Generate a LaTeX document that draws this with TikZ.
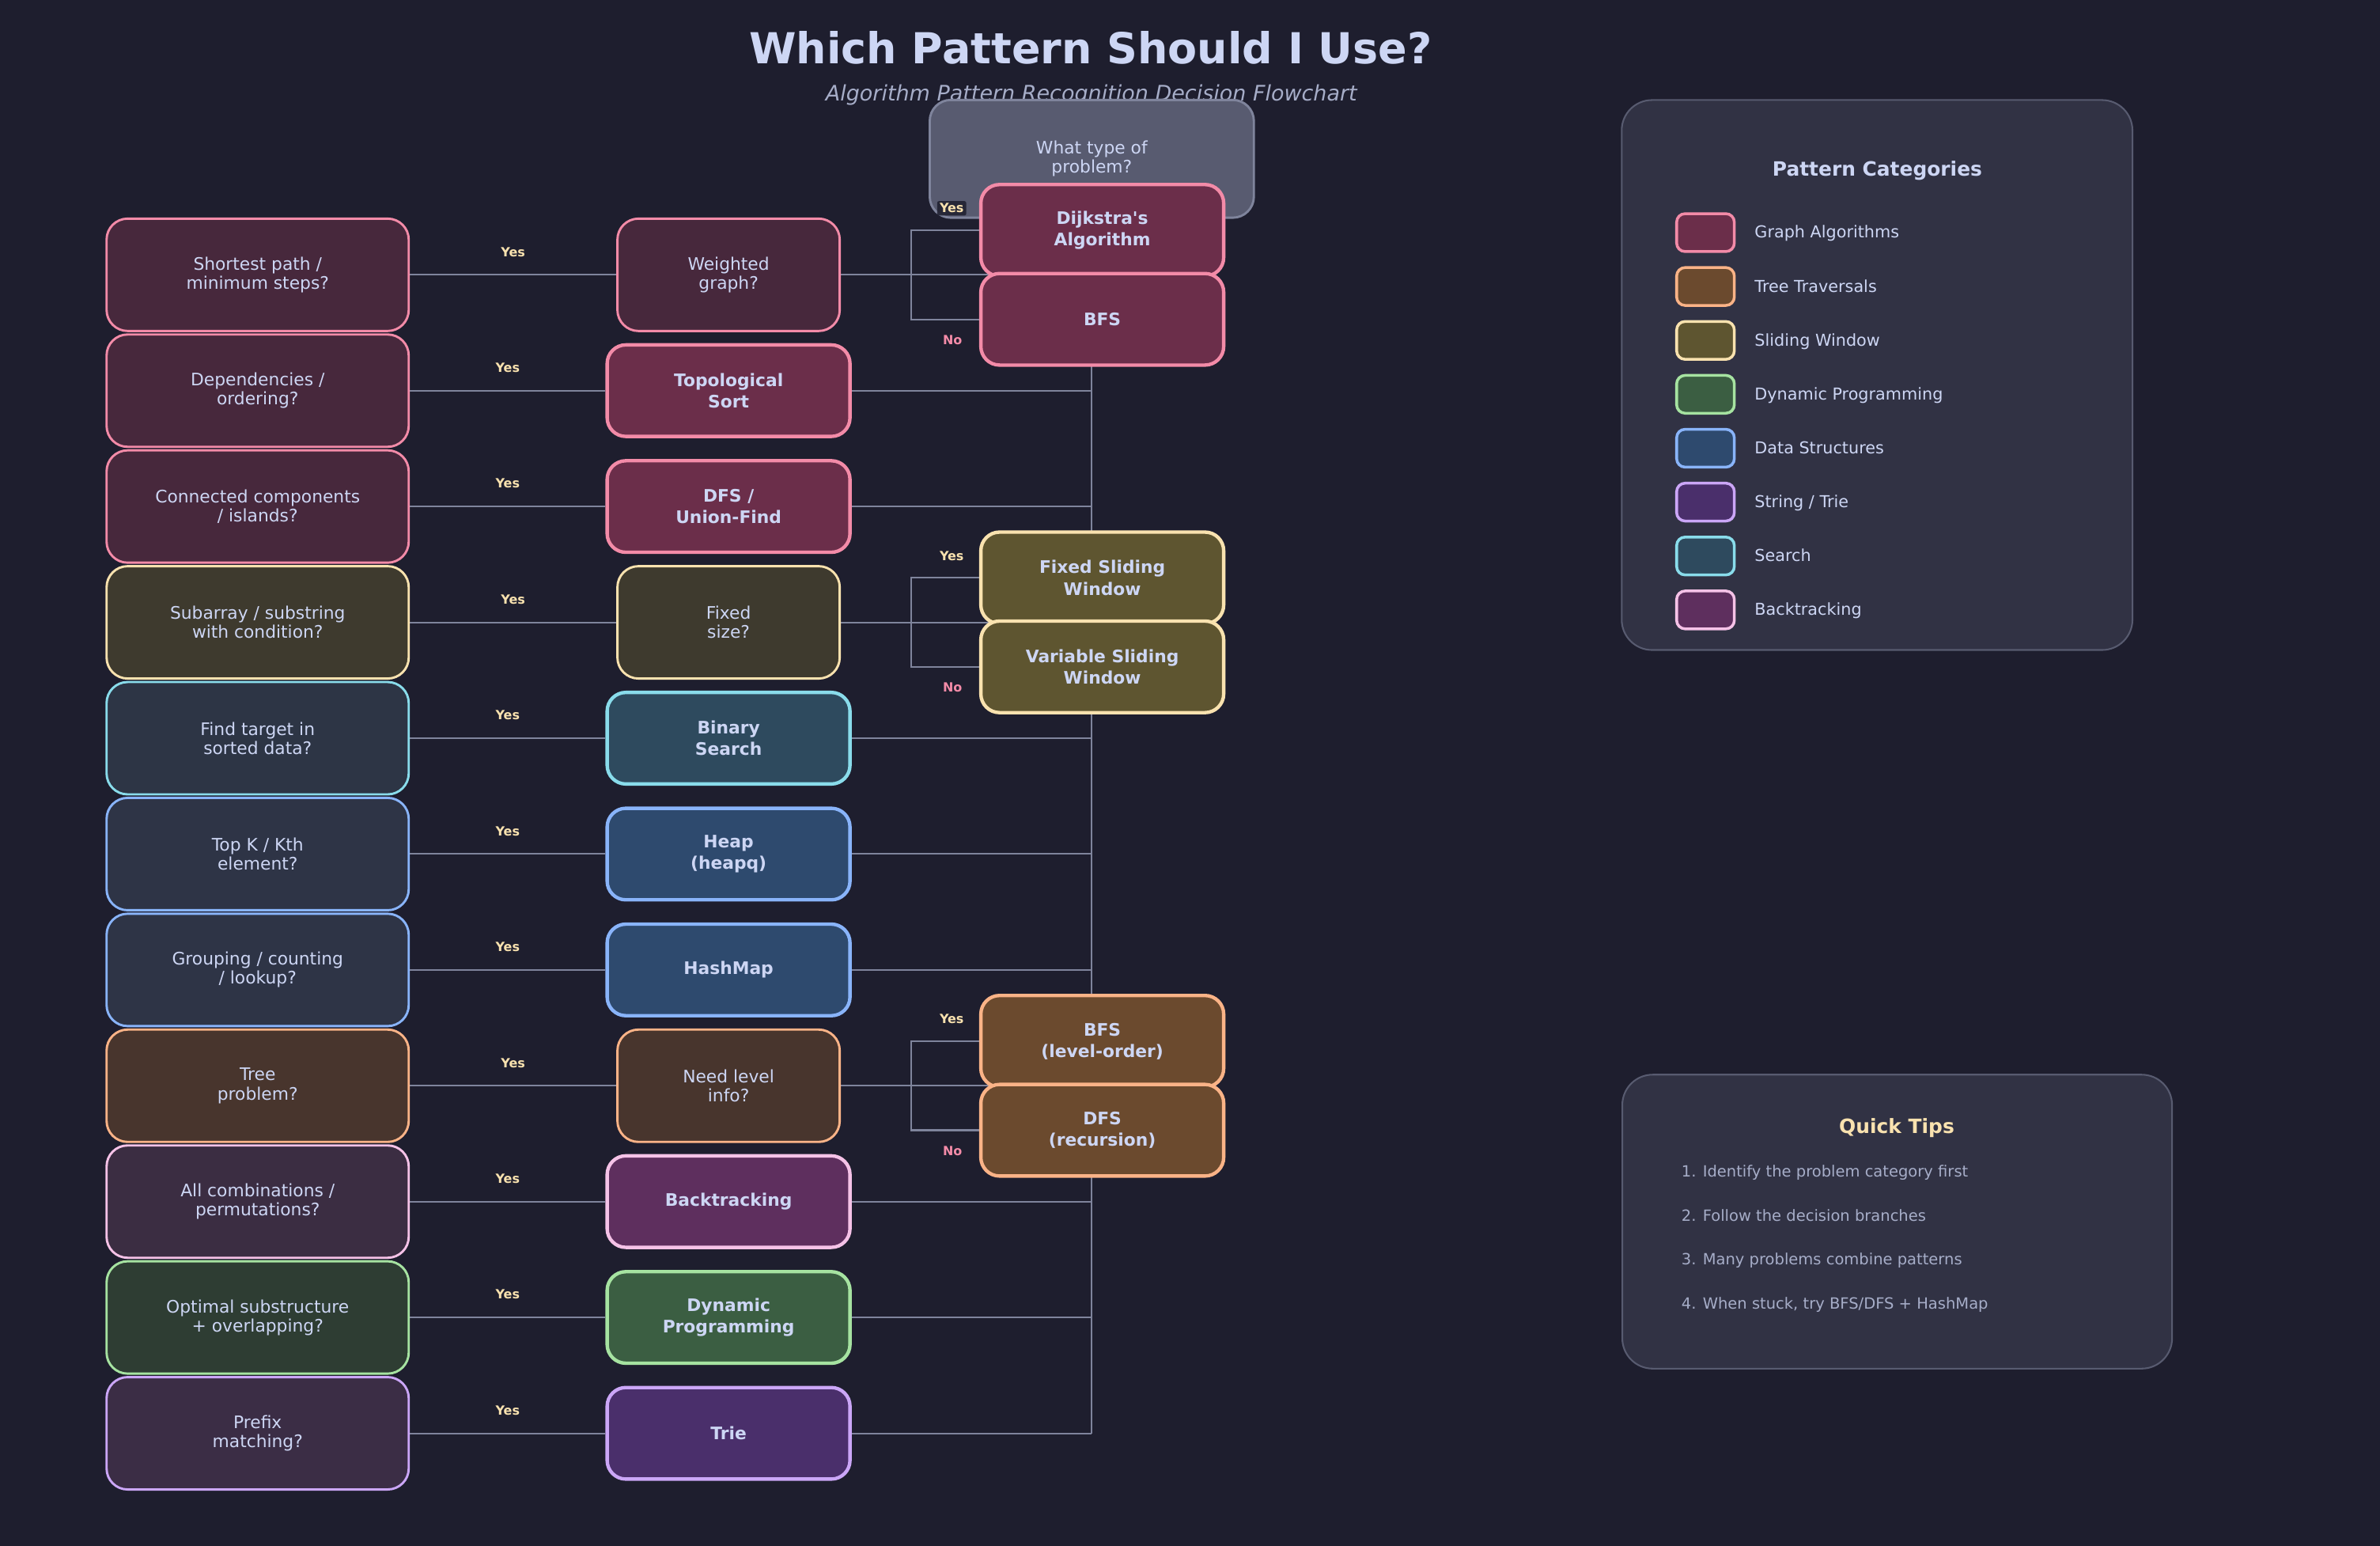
\documentclass[tikz,border=0pt]{standalone}
\usepackage{fontspec}
\setmainfont{DejaVu Sans}
\usetikzlibrary{backgrounds}

% palette
\definecolor{basebg}{HTML}{1E1E2E}
\definecolor{textfg}{HTML}{CDD6F4}
\definecolor{subfg}{HTML}{A6ADC8}
\definecolor{linkgray}{HTML}{7F849C}
\definecolor{startfill}{HTML}{585B70}
\definecolor{panelfill}{HTML}{313244}
\definecolor{paneledge}{HTML}{585B70}
\definecolor{pinkedge}{HTML}{F38BA8}
\definecolor{pinkq}{HTML}{47283C}
\definecolor{pinkr}{HTML}{6B2E4A}
\definecolor{peachedge}{HTML}{FAB387}
\definecolor{peachq}{HTML}{48352D}
\definecolor{peachr}{HTML}{6B4A2E}
\definecolor{yellowedge}{HTML}{F9E2AF}
\definecolor{yellowq}{HTML}{3E3A2E}
\definecolor{yellowr}{HTML}{5E5530}
\definecolor{greenedge}{HTML}{A6E3A1}
\definecolor{greenq}{HTML}{2E3D33}
\definecolor{greenr}{HTML}{3B5E42}
\definecolor{blueedge}{HTML}{89B4FA}
\definecolor{blueq}{HTML}{2E3446}
\definecolor{bluer}{HTML}{2E4A6E}
\definecolor{mauveedge}{HTML}{CBA6F7}
\definecolor{mauveq}{HTML}{3B2D45}
\definecolor{mauver}{HTML}{4A2F6B}
\definecolor{skyedge}{HTML}{89DCEB}
\definecolor{skyq}{HTML}{2D3545}
\definecolor{skyr}{HTML}{2E4A5E}
\definecolor{flamedge}{HTML}{F5C2E7}
\definecolor{flamq}{HTML}{3B2D42}
\definecolor{flamr}{HTML}{5E2F5E}

\begin{document}
\begin{tikzpicture}[
    x=0.032496cm, y=-0.032496cm,
    question/.style={draw, rounded corners=0.45cm, line width=1.4pt, minimum width=6.47cm, minimum height=2.405cm, align=center, text=textfg, font=\fontsize{10.5}{11.6}\selectfont},
    decision/.style={question, minimum width=4.76cm},
    result/.style={draw, rounded corners=0.4cm, line width=2.1pt, minimum width=5.2cm, minimum height=1.96cm, align=center, text=textfg, font=\bfseries\fontsize{10.5}{13.2}\selectfont},
    startbox/.style={draw=linkgray, fill=startfill, rounded corners=0.45cm, line width=1.4pt, minimum width=6.94cm, minimum height=2.52cm, align=center, text=textfg, font=\fontsize{10.5}{11.6}\selectfont},
    graphq/.style={draw=pinkedge, fill=pinkq}, graphr/.style={draw=pinkedge, fill=pinkr},
    treeq/.style={draw=peachedge, fill=peachq}, treer/.style={draw=peachedge, fill=peachr},
    slideq/.style={draw=yellowedge, fill=yellowq}, slider/.style={draw=yellowedge, fill=yellowr},
    dpq/.style={draw=greenedge, fill=greenq}, dpr/.style={draw=greenedge, fill=greenr},
    dsq/.style={draw=blueedge, fill=blueq}, dsr/.style={draw=blueedge, fill=bluer},
    trieq/.style={draw=mauveedge, fill=mauveq}, trier/.style={draw=mauveedge, fill=mauver},
    searchq/.style={draw=skyedge, fill=skyq}, searchr/.style={draw=skyedge, fill=skyr},
    backq/.style={draw=flamedge, fill=flamq}, backr/.style={draw=flamedge, fill=flamr},
    link/.style={draw=linkgray, line width=1pt},
    yeslbl/.style={text=yellowedge, font=\bfseries\fontsize{7.7}{9}\selectfont, fill=basebg, fill opacity=0.85, text opacity=1, rounded corners=1pt, inner sep=1.5pt},
    nolbl/.style={yeslbl, text=pinkedge},
    panel/.style={draw=paneledge, fill=panelfill, line width=1pt, rounded corners=0.65cm},
    swatch/.style={draw, rounded corners=0.18cm, line width=1.7pt, minimum width=1.235cm, minimum height=0.81cm},
    legtext/.style={text=textfg, font=\fontsize{10}{12}\selectfont, anchor=base west, inner sep=0pt},
    tiptext/.style={text=subfg, font=\fontsize{9.4}{11}\selectfont, anchor=base west, inner sep=0pt}
]

\useasboundingbox (0,0) rectangle (1568,1018);
\begin{scope}[on background layer]
\fill[basebg] (0,0) rectangle (1568,1018);
\end{scope}

% header
\node[text=textfg, font=\bfseries\fontsize{26}{31}\selectfont, anchor=base] (title) at (718.6,41.7) {Which Pattern Should I Use?};
\node[text=subfg, font=\itshape\fontsize{13}{15}\selectfont, anchor=base] (subtitle) at (719,66.3) {Algorithm Pattern Recognition Decision Flowchart};

\node[startbox] (start) at (719.3,104.6) {What type of\\problem?};

% questions
\node[question, graphq] (q_short) at (169.75,181.0) {Shortest path /\\minimum steps?};
\node[question, graphq] (q_dep) at (169.75,257.3) {Dependencies /\\ordering?};
\node[question, graphq] (q_conn) at (169.75,333.6) {Connected components\\/ islands?};
\node[question, slideq] (q_sub) at (169.75,409.9) {Subarray / substring\\with condition?};
\node[question, searchq] (q_find) at (169.75,486.2) {Find target in\\sorted data?};
\node[question, dsq] (q_topk) at (169.75,562.5) {Top K / Kth\\element?};
\node[question, dsq] (q_group) at (169.75,638.8) {Grouping / counting\\/ lookup?};
\node[question, treeq] (q_tree) at (169.75,715.1) {Tree\\problem?};
\node[question, backq] (q_comb) at (169.75,791.4) {All combinations /\\permutations?};
\node[question, dpq] (q_opt) at (169.75,867.7) {Optimal substructure\\+ overlapping?};
\node[question, trieq] (q_prefix) at (169.75,944.0) {Prefix\\matching?};

% second column
\node[decision, graphq] (d_weight) at (480,181.0) {Weighted\\graph?};
\node[result, graphr] (m_topo) at (480,257.3) {Topological\\Sort};
\node[result, graphr] (m_dfs) at (480,333.6) {DFS /\\Union-Find};
\node[decision, slideq] (d_fixed) at (480,409.9) {Fixed\\size?};
\node[result, searchr] (m_bsearch) at (480,486.2) {Binary\\Search};
\node[result, dsr] (m_heap) at (480,562.5) {Heap\\(heapq)};
\node[result, dsr] (m_hash) at (480,638.8) {HashMap};
\node[decision, treeq] (d_level) at (480,715.1) {Need level\\info?};
\node[result, backr] (m_back) at (480,791.4) {Backtracking};
\node[result, dpr] (m_dp) at (480,867.7) {Dynamic\\Programming};
\node[result, trier] (m_trie) at (480,944.0) {Trie};

% yes / no outcomes
\node[result, graphr] (s_dijk) at (726.2,151.7) {Dijkstra\textquotesingle s\\Algorithm};
\node[result, graphr] (s_bfs) at (726.2,210.3) {BFS};
\node[result, slider] (s_fixed) at (726.2,380.6) {Fixed Sliding\\Window};
\node[result, slider] (s_var) at (726.2,439.2) {Variable Sliding\\Window};
\node[result, treer] (s_bfslvl) at (726.2,685.8) {BFS\\(level-order)};
\node[result, treer] (s_dfsrec) at (726.2,744.4) {DFS\\(recursion)};

\coordinate (br_weight) at (600.4,181.0);
\coordinate (br_fixed) at (600.4,409.9);
\coordinate (br_level) at (600.4,715.1);

\node[yeslbl] (y_dijk) at (627,137.2) {Yes};
\node[nolbl] (n_bfs) at (627.5,224.0) {No};
\node[yeslbl] (y_fixed) at (627,366.1) {Yes};
\node[nolbl] (n_var) at (627.5,452.9) {No};
\node[yeslbl] (y_bfslvl) at (627,671.3) {Yes};
\node[nolbl] (n_dfsrec) at (627.5,758.1) {No};

% connectors
\begin{scope}[on background layer]
\draw[link] (start) -- (start |- m_trie);
\draw[link] (q_short) -- node[yeslbl, yshift=0.49cm] {Yes} (d_weight);
\draw[link] (q_dep) -- node[yeslbl, yshift=0.49cm] {Yes} (m_topo);
\draw[link] (q_conn) -- node[yeslbl, yshift=0.49cm] {Yes} (m_dfs);
\draw[link] (q_sub) -- node[yeslbl, yshift=0.49cm] {Yes} (d_fixed);
\draw[link] (q_find) -- node[yeslbl, yshift=0.49cm] {Yes} (m_bsearch);
\draw[link] (q_topk) -- node[yeslbl, yshift=0.49cm] {Yes} (m_heap);
\draw[link] (q_group) -- node[yeslbl, yshift=0.49cm] {Yes} (m_hash);
\draw[link] (q_tree) -- node[yeslbl, yshift=0.49cm] {Yes} (d_level);
\draw[link] (q_comb) -- node[yeslbl, yshift=0.49cm] {Yes} (m_back);
\draw[link] (q_opt) -- node[yeslbl, yshift=0.49cm] {Yes} (m_dp);
\draw[link] (q_prefix) -- node[yeslbl, yshift=0.49cm] {Yes} (m_trie);

\draw[link] (d_weight.east) -- (d_weight -| start);
\draw[link] (s_dijk.west) -| (br_weight) |- (s_bfs.west);
\draw[link] (m_topo.east) -- (m_topo -| start);
\draw[link] (m_dfs.east) -- (m_dfs -| start);
\draw[link] (d_fixed.east) -- (d_fixed -| start);
\draw[link] (s_fixed.west) -| (br_fixed) |- (s_var.west);
\draw[link] (m_bsearch.east) -- (m_bsearch -| start);
\draw[link] (m_heap.east) -- (m_heap -| start);
\draw[link] (m_hash.east) -- (m_hash -| start);
\draw[link] (d_level.east) -- (d_level -| start);
\draw[link] (s_bfslvl.west) -| (br_level) |- (s_dfsrec.west);
\draw[link] (m_back.east) -- (m_back -| start);
\draw[link] (m_dp.east) -- (m_dp -| start);
\draw[link] (m_trie.east) -- (m_trie -| start);
\end{scope}

% legend
\draw[panel] (1068.4,65.9) rectangle (1404.9,428.1);
\node[text=textfg, font=\bfseries\fontsize{12}{14}\selectfont, anchor=base] (legend_title) at (1236.8,115.7) {Pattern Categories};
\node[swatch, graphr] (k_graph) at (1123.6,153.2) {};
\node[legtext] (l_graph) at (1155.8,156.8) {Graph Algorithms};
\node[swatch, treer] (k_tree) at (1123.6,188.7) {};
\node[legtext] (l_tree) at (1155.8,192.3) {Tree Traversals};
\node[swatch, slider] (k_slide) at (1123.6,224.2) {};
\node[legtext] (l_slide) at (1155.8,227.8) {Sliding Window};
\node[swatch, dpr] (k_dp) at (1123.6,259.7) {};
\node[legtext] (l_dp) at (1155.8,263.3) {Dynamic Programming};
\node[swatch, dsr] (k_ds) at (1123.6,295.2) {};
\node[legtext] (l_ds) at (1155.8,298.8) {Data Structures};
\node[swatch, trier] (k_trie) at (1123.6,330.7) {};
\node[legtext] (l_trie) at (1155.8,334.3) {String / Trie};
\node[swatch, searchr] (k_search) at (1123.6,366.2) {};
\node[legtext] (l_search) at (1155.8,369.8) {Search};
\node[swatch, backr] (k_back) at (1123.6,401.7) {};
\node[legtext] (l_back) at (1155.8,405.3) {Backtracking};

% tips
\draw[panel] (1068.8,707.8) rectangle (1431.0,901.4);
\node[text=yellowedge, font=\bfseries\fontsize{12}{14}\selectfont, anchor=base] (tips_title) at (1249.6,746.6) {Quick Tips};
\node[tiptext] (tip1) at (1107.6,775.0) {1. Identify the problem category first};
\node[tiptext] (tip2) at (1107.6,804.2) {2. Follow the decision branches};
\node[tiptext] (tip3) at (1107.6,833.1) {3. Many problems combine patterns};
\node[tiptext] (tip4) at (1107.6,862.0) {4. When stuck, try BFS/DFS + HashMap};

\end{tikzpicture}
\end{document}
